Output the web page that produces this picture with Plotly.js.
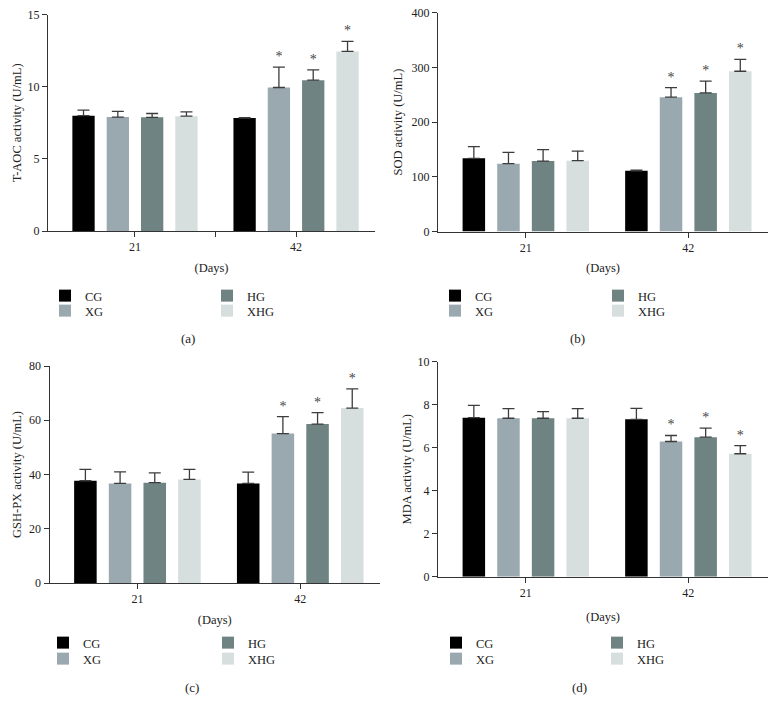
<!DOCTYPE html>
<html>
<head>
<meta charset="utf-8">
<script src="https://cdn.plot.ly/plotly-3.0.1.min.js"></script>
<style>
html,body{margin:0;padding:0;background:#ffffff;}
#chart{width:777px;height:713px;}
</style>
</head>
<body>
<div id="chart"></div>
<script>
// ---------------- data ----------------
const days = ['21', '42'];
const groups = ['CG', 'XG', 'HG', 'XHG'];
const groupColors = ['#000000', '#9aa9b0', '#6f8383', '#d6dfde'];

// rows follow groups (CG, XG, HG, XHG); columns follow days (21, 42)
const taocMean = [[8.00, 7.83], [7.90, 9.95], [7.88, 10.46], [7.96, 12.45]];
const taocErr  = [[0.38, 0.03], [0.39, 1.42], [0.27, 0.72], [0.30, 0.70]];

const sodMean = [[133.7, 111.0], [124.0, 245.5], [128.8, 253.4], [129.5, 293.0]];
const sodErr  = [[21.3, 1.0], [20.7, 17.5], [20.9, 21.4], [17.5, 21.6]];

const gshMean = [[37.7, 36.7], [36.7, 55.1], [37.0, 58.6], [38.2, 64.5]];
const gshErr  = [[4.2, 4.2], [4.3, 6.2], [3.6, 4.2], [3.7, 7.1]];

const mdaMean = [[7.40, 7.32], [7.37, 6.29], [7.37, 6.49], [7.37, 5.72]];
const mdaErr  = [[0.57, 0.51], [0.45, 0.28], [0.31, 0.42], [0.45, 0.38]];

const sigMarks = [['', ''], ['', '*'], ['', '*'], ['', '*']];

const yTitles = ['T-AOC activity (U/mL)', 'SOD activity (U/mL)', 'GSH-PX activity (U/mL)', 'MDA activity (U/mL)'];
const yMax = [15, 400, 80, 10];
const yStep = [5, 100, 20, 2];
const panelLabels = ['(a)', '(b)', '(c)', '(d)'];
const xTitle = '(Days)';

// ---------------- layout geometry (pixels) ----------------
const W = 777, H = 713;
const FONT = 'Liberation Serif, Times New Roman, serif';
const geo = [
  {l: 48,  r: 375, t: 14.7, b: 231.0, legX: [85, 247],  legY: [297, 312], lab: [188, 338], ySt: 3, xSt: 9},
  {l: 438, r: 768, t: 12.7, b: 231.5, legX: [475, 638], legY: [297, 312], lab: [577, 338], ySt: 6, xSt: 9},
  {l: 49.5,r: 380, t: 366,  b: 583.0, legX: [83, 248],  legY: [644, 660], lab: [192, 687], ySt: 4, xSt: 9},
  {l: 438, r: 768, t: 361.7,b: 576.8, legX: [476, 637], legY: [644, 660], lab: [579, 687], ySt: 3, xSt: 13}
];
// legend slot of each group: [column, row]
const legendSlot = [[0, 0], [0, 1], [1, 0], [1, 1]];
const fx = p => p / W;
const fy = p => 1 - p / H;

const panelData = [
  {mean: taocMean, err: taocErr, midTick: true},
  {mean: sodMean, err: sodErr, midTick: false},
  {mean: gshMean, err: gshErr, midTick: false},
  {mean: mdaMean, err: mdaErr, midTick: false}
];

const dayPos = days.map((d, i) => i);
const traces = [];
const layout = {
  width: W, height: H,
  margin: {l: 0, r: 0, t: 0, b: 0, autoexpand: false},
  paper_bgcolor: '#ffffff', plot_bgcolor: '#ffffff',
  barmode: 'group', bargap: 0.148, bargroupgap: 0.35,
  font: {family: FONT, color: '#222222', size: 12},
  annotations: [],
  showlegend: true
};

panelData.forEach((p, pi) => {
  const sfx = pi === 0 ? '' : String(pi + 1);
  const g = geo[pi];
  groups.forEach((name, gi) => {
    const k = pi * 4 + gi;
    const legName = k === 0 ? 'legend' : 'legend' + (k + 1);
    const slot = legendSlot[gi];
    layout[legName] = {
      x: fx(g.legX[slot[0]] - 40), xanchor: 'left',
      y: fy(g.legY[slot[1]] - 16), yanchor: 'top',
      orientation: 'v', bgcolor: 'rgba(0,0,0,0)', borderwidth: 0,
      font: {family: FONT, size: 12.5, color: '#222222'},
      itemclick: false, itemdoubleclick: false
    };
    traces.push({
      type: 'bar', x: dayPos, y: p.mean[gi], name: name,
      xaxis: 'x' + sfx, yaxis: 'y' + sfx,
      offsetgroup: name,
      marker: {color: groupColors[gi], line: {width: 0}},
      error_y: {type: 'data', symmetric: false, array: p.err[gi],
                arrayminus: p.err[gi].map(() => 0),
                color: '#3c3c3c', thickness: 1.3, width: 6},
      legend: legName, showlegend: true, hoverinfo: 'skip'
    });
    traces.push({
      type: 'bar', x: dayPos, y: p.mean[gi].map((m, i) => m + p.err[gi][i]),
      xaxis: 'x' + sfx, yaxis: 'y' + sfx,
      offsetgroup: name, name: name + ' significance',
      marker: {color: 'rgba(0,0,0,0)', line: {width: 0}},
      text: sigMarks[gi], textposition: 'outside', constraintext: 'none',
      cliponaxis: false,
      textfont: {family: FONT, size: 14, color: '#444444'},
      outsidetextfont: {family: FONT, size: 14, color: '#444444'},
      showlegend: false, hoverinfo: 'skip'
    });
  });

  const tickvals = p.midTick ? [dayPos[0], (dayPos[0] + dayPos[1]) / 2, dayPos[1]] : dayPos;
  const ticktext = p.midTick ? [days[0], '', days[1]] : days;
  layout['xaxis' + sfx] = {
    domain: [fx(g.l), fx(g.r)], anchor: 'y' + sfx,
    type: 'linear', range: [-0.54, 1.49], fixedrange: true,
    tickmode: 'array', tickvals: tickvals, ticktext: ticktext,
    ticks: 'outside', ticklen: 5, tickwidth: 1, tickcolor: '#333333',
    showline: true, linecolor: '#333333', linewidth: 1,
    showgrid: false, zeroline: false, automargin: true,
    tickfont: {family: FONT, size: 12, color: '#222222'},
    title: {text: xTitle, font: {family: FONT, size: 12.5, color: '#222222'}, standoff: g.xSt}
  };
  layout['yaxis' + sfx] = {
    domain: [fy(g.b), fy(g.t)], anchor: 'x' + sfx,
    range: [0, yMax[pi]], dtick: yStep[pi], tick0: 0, fixedrange: true,
    ticks: 'outside', ticklen: 5, tickwidth: 1, tickcolor: '#333333',
    showline: true, linecolor: '#333333', linewidth: 1,
    showgrid: false, zeroline: false, automargin: true,
    tickfont: {family: FONT, size: 12, color: '#222222'},
    title: {text: yTitles[pi], font: {family: FONT, size: 12.5, color: '#222222'}, standoff: g.ySt}
  };

  layout.annotations.push({
    xref: 'paper', yref: 'paper', x: fx(g.lab[0]), y: fy(g.lab[1]),
    xanchor: 'center', yanchor: 'middle', showarrow: false,
    text: panelLabels[pi], font: {family: FONT, size: 13, color: '#222222'}
  });
});

Plotly.newPlot('chart', traces, layout, {staticPlot: true, displayModeBar: false});
</script>
</body>
</html>
